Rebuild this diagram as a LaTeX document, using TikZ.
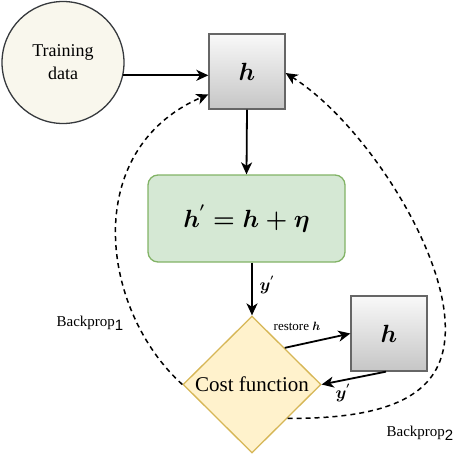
\documentclass[tikz,border=0pt]{standalone}
\usepackage{amsmath}
\usepackage[no-math]{fontspec}
\setmainfont{Liberation Serif}
\newfontfamily\subsans{Liberation Sans}
\usetikzlibrary{shapes.geometric,arrows.meta,calc}
\definecolor{circfill}{HTML}{F9F7ED}
\definecolor{circdraw}{HTML}{36393D}
\definecolor{greenfill}{HTML}{D5E8D4}
\definecolor{greendraw}{HTML}{82B366}
\definecolor{yelfill}{HTML}{FFF2CC}
\definecolor{yeldraw}{HTML}{D6B656}
\definecolor{graydraw}{HTML}{666666}
\begin{document}
\begin{tikzpicture}[x=1pt,y=-1pt,
  hbox/.style={draw=graydraw, line width=1.3pt, top color=gray!5, bottom color=gray!45,
    minimum width=76pt, minimum height=75pt, inner sep=0pt},
  conn/.style={line width=1.8pt, -{Stealth[length=12pt,width=11pt,inset=3.5pt]}},
  bp/.style={line width=1.5pt, dash pattern=on 5pt off 4pt,
    -{Stealth[length=12pt,width=11pt,inset=3.5pt]}},
  lbl/.style={inner sep=0pt},
]
\useasboundingbox (0,0) rectangle (454,456);
\node[circle, draw=circdraw, fill=circfill, line width=1.3pt, minimum size=122pt,
  inner sep=0pt, align=center, font=\fontsize{18}{23}\selectfont] (train) at (63,62.5) {Training\\data};
\node[hbox] (h1) at (247,71.5) {\fontsize{23}{27}\selectfont$\boldsymbol{h}$};
\node[draw=greendraw, fill=greenfill, rounded corners=10pt, line width=1.3pt,
  minimum width=197pt, minimum height=87pt, inner sep=0pt] (noise) at (246.5,218.5)
  {\fontsize{25}{30}\selectfont$\boldsymbol{h^{'}=h+\eta}$};
\node[diamond, draw=yeldraw, fill=yelfill, line width=1.3pt, minimum width=138pt,
  minimum height=137pt, inner sep=0pt, font=\fontsize{21}{25}\selectfont] (cost) at (252,384.5) {Cost function};
\node[hbox] (h2) at (389,333.5) {\fontsize{25}{30}\selectfont$\boldsymbol{h}$};

\coordinate (trstart) at (train.-12);
\draw[conn] (trstart) -- (trstart -| h1.west);
\draw[conn] (h1.south) -- (noise.south |- noise.north);
\draw[conn] (cost.north |- noise.south) -- (cost.north);
\node[lbl] (ylab1) at (267,285) {\fontsize{17}{20}\selectfont$\boldsymbol{y^{'}}$};

\coordinate (rs) at ($(cost.north)!0.47!(cost.east)$);
\draw[conn] (rs) -- (h2.west);
\node[lbl] (rlab) at (297,326) {\fontsize{13}{16}\selectfont restore $\boldsymbol{h}$};

\coordinate (bs) at ($(h2.south)+(-3,0)$);
\draw[conn] (bs) -- (cost.east);
\node[lbl] (ylab2) at (343,393) {\fontsize{17}{20}\selectfont$\boldsymbol{y^{'}}$};

\coordinate (bp1end) at ($(h1.north west)!0.8!(h1.south west)$);
\draw[bp] (cost.west) .. controls (100,310) and (80,150) .. (bp1end);
\node[lbl] (bp1lab) at (90,323) {\fontsize{15}{18}\selectfont Backprop\raisebox{-4pt}{\subsans 1}};

\coordinate (bp2start) at ($(cost.east)!0.49!(cost.south)$);
\coordinate (bp2end) at ($(h1.north east)!0.52!(h1.south east)$);
\draw[bp] (bp2start) .. controls (400,419) and (450,390) .. (445,320)
  .. controls (440,240) and (360,120) .. (bp2end);
\node[lbl] (bp2lab) at (420,433) {\fontsize{15}{18}\selectfont Backprop\raisebox{-4pt}{\subsans 2}};
\end{tikzpicture}
\end{document}
